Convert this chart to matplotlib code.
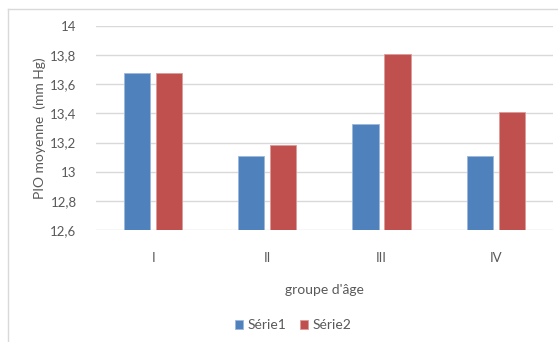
import numpy as np
import matplotlib.pyplot as plt
from matplotlib.lines import Line2D

# Mean IOP per age group
groups = ["I", "II", "III", "IV"]
serie1 = [13.68, 13.11, 13.33, 13.11]
serie2 = [13.68, 13.18, 13.81, 13.41]
yticks = [12.6, 12.8, 13.0, 13.2, 13.4, 13.6, 13.8, 14.0]

blue = "#4F81BD"
red = "#C0504D"
grey = "#595959"

plt.rcParams["font.family"] = ["Lato", "DejaVu Sans"]

fig = plt.figure(figsize=(5.58, 3.42), dpi=100)
ax = fig.add_axes([0.172, 0.3275, 0.819, 0.5965])

x = np.arange(len(groups))
w = 0.23
ax.bar(x - 0.14, serie1, w, color=blue, edgecolor="#9DB7DA", linewidth=0.6,
       label="Série1", zorder=3)
ax.bar(x + 0.14, serie2, w, color=red, edgecolor="#DB9A98", linewidth=0.6,
       label="Série2", zorder=3)

ax.set_xlim(-0.5, len(groups) - 0.5)
ax.set_ylim(12.6, 14.0)
ax.set_yticks(yticks)
ax.set_yticklabels([f"{v:g}".replace(".", ",") for v in yticks])
ax.set_xticks(x)
ax.set_xticklabels(groups)
ax.grid(axis="y", color="#D9D9D9", linewidth=1, zorder=0)
for s in ax.spines.values():
    s.set_visible(False)
ax.tick_params(length=0, colors=grey, labelsize=9.5)
ax.tick_params(axis="x", pad=16)
ax.tick_params(axis="y", pad=14)

ax.set_xlabel("groupe d'âge", color=grey, fontsize=10, labelpad=14)
ax.set_ylabel("PIO moyenne  (mm Hg)", color=grey, fontsize=10)
ax.yaxis.set_label_coords(-0.11, 0.5)

ax.legend(loc="center", bbox_to_anchor=(293 / 558, 1 - 325 / 342),
          bbox_transform=fig.transFigure, ncol=2, frameon=False,
          handlelength=0.6, handleheight=0.6, handletextpad=0.3,
          columnspacing=1.0, labelcolor=grey, fontsize=10)

# outer chart frame
fig.add_artist(Line2D([8 / 558, 8 / 558], [0, 1 - 9 / 342],
                      transform=fig.transFigure, color="#D9D9D9", lw=1))
fig.add_artist(Line2D([8 / 558, 1], [1 - 9 / 342, 1 - 9 / 342],
                      transform=fig.transFigure, color="#D9D9D9", lw=1))

fig.savefig("out.png", dpi=100)
